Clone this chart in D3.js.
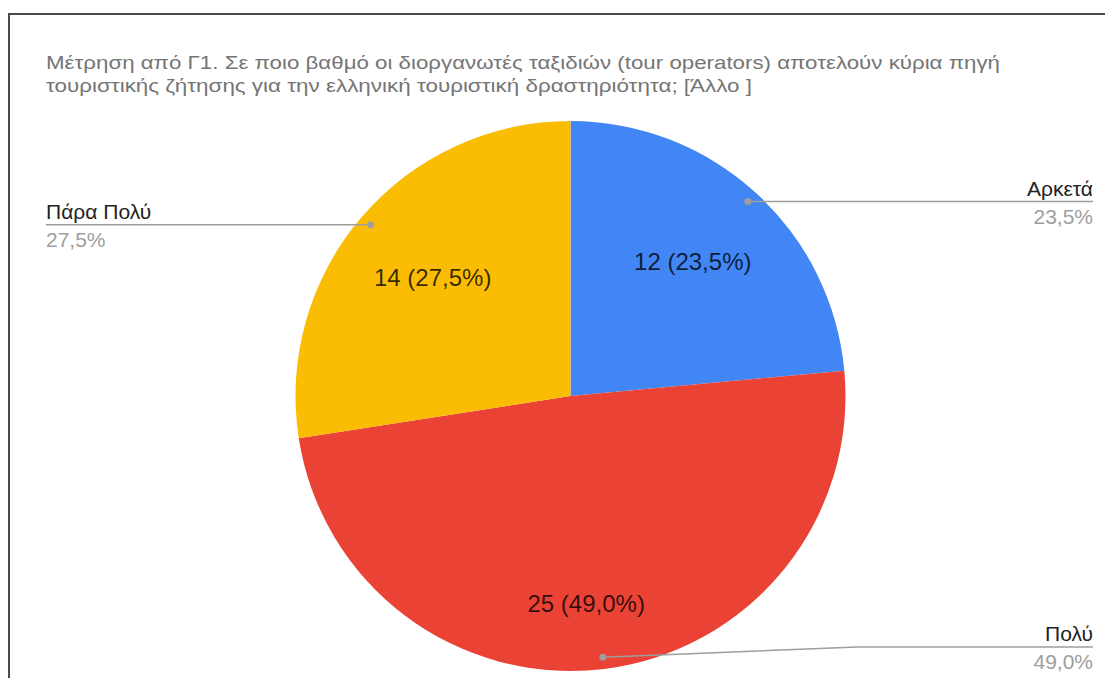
<!DOCTYPE html>
<html>
<head>
<meta charset="utf-8">
<script src="https://cdn.jsdelivr.net/npm/d3@7"></script>
<style>
  html, body { margin: 0; padding: 0; background: #fff; }
  svg { display: block; }
</style>
</head>
<body>
<svg id="chart" width="1105" height="678"></svg>
<script>
const titleLines = [
  "Μέτρηση από Γ1. Σε ποιο βαθμό οι διοργανωτές ταξιδιών (tour operators) αποτελούν κύρια πηγή",
  "τουριστικής ζήτησης για την ελληνική τουριστική δραστηριότητα; [Άλλο ]"
];
const categories = ["Αρκετά", "Πολύ", "Πάρα Πολύ"];
const counts = [12, 25, 14];
const colors = ["#4285F4", "#EA4335", "#FBBC04"];

const svg = d3.select("#chart");
const W = 1105, H = 678;
const cx = 570.5, cy = 396, R = 275;
const fontFam = "'Liberation Sans', Arial, sans-serif";

// frame
svg.append("rect").attr("x", 0).attr("y", 0).attr("width", W).attr("height", H).attr("fill", "#fff");
svg.append("path")
  .attr("d", `M9,${H} L9,14 L${W},14`)
  .attr("fill", "none").attr("stroke", "#4a4a4a").attr("stroke-width", 2);

// title
const titleWidths = [954, 706];
svg.append("g").selectAll("text").data(titleLines).join("text")
  .attr("x", 46).attr("y", (d, i) => 69 + i * 23)
  .attr("font-family", fontFam).attr("font-size", 19).attr("fill", "#757575")
  .attr("textLength", (d, i) => titleWidths[i]).attr("lengthAdjust", "spacingAndGlyphs")
  .text(d => d);

const total = d3.sum(counts);
const data = categories.map((c, i) => ({ cat: c, v: counts[i], color: colors[i] }));
const pie = d3.pie().value(d => d.v).sort(null);
const arcs = pie(data);
const arc = d3.arc().innerRadius(0).outerRadius(R);

const g = svg.append("g").attr("transform", `translate(${cx},${cy})`);
g.selectAll("path").data(arcs).join("path")
  .attr("d", arc).attr("fill", d => d.data.color);

const fmt = v => (v * 100).toFixed(1).replace(".", ",") + "%";

// in-slice labels
const labelFactor = [0.66, 0.76, 0.66];
g.selectAll("text.in").data(arcs).join("text")
  .attr("class", "in")
  .attr("x", (d, i) => Math.sin((d.startAngle + d.endAngle) / 2) * R * labelFactor[i] - (i === 1 ? 10 : 0))
  .attr("y", (d, i) => -Math.cos((d.startAngle + d.endAngle) / 2) * R * labelFactor[i])
  .attr("dy", "0.35em")
  .attr("text-anchor", "middle")
  .attr("font-family", fontFam).attr("font-size", 24)
  .attr("fill", "#000").attr("fill-opacity", 0.78)
  .text(d => `${d.data.v} (${fmt(d.data.v / total)})`);

// outside labels with leader lines
const dotR = R * 0.957;
const lineMaxY = 647;
arcs.forEach((d, i) => {
  const a = (d.startAngle + d.endAngle) / 2;
  const px = cx + Math.sin(a) * dotR;
  const py = cy - Math.cos(a) * dotR;
  const right = Math.sin(a) > 0;
  const ly = Math.min(py, lineMaxY);
  const ex = right ? 1093 : 46;
  const bendX = right ? Math.max(px, px + (py - ly) * 25) : px;
  const pts = right ? [[px, py], [bendX, ly], [ex, ly]] : [[px, py], [ex, ly]];
  svg.append("path")
    .attr("d", d3.line()(pts))
    .attr("fill", "none").attr("stroke", "#9e9e9e").attr("stroke-width", 1.5);
  svg.append("circle").attr("cx", px).attr("cy", py).attr("r", 3.5).attr("fill", "#9e9e9e");
  svg.append("text")
    .attr("x", ex).attr("y", ly - 6)
    .attr("text-anchor", right ? "end" : "start")
    .attr("font-family", fontFam).attr("font-size", 21).attr("fill", "#222")
    .text(d.data.cat);
  svg.append("text")
    .attr("x", ex).attr("y", ly + 22)
    .attr("text-anchor", right ? "end" : "start")
    .attr("font-family", fontFam).attr("font-size", 21).attr("fill", "#9e9e9e")
    .text(fmt(d.data.v / total));
});
</script>
</body>
</html>
